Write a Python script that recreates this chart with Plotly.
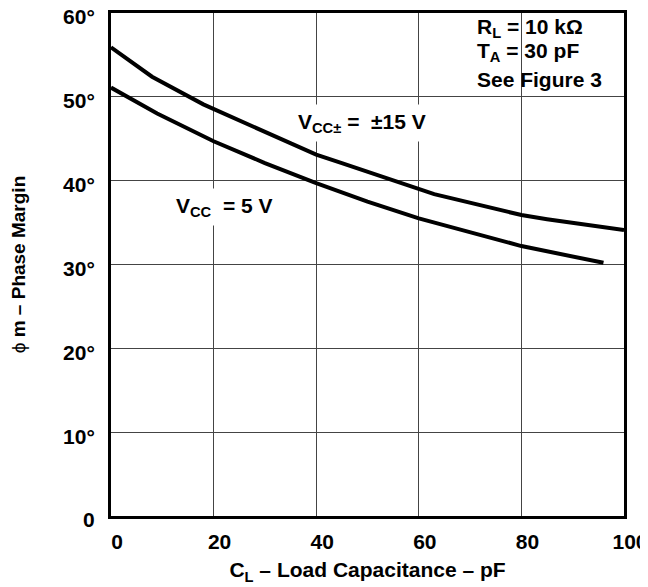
import plotly.graph_objects as go

# load capacitance (pF) and phase margin (degrees)
cl_15 = [0, 8, 18, 27, 40, 45, 55, 63, 80, 85, 100]
pm_15 = [55.9, 52.4, 49.1, 46.6, 43.1, 42.1, 40.1, 38.4, 35.9, 35.4, 34.1]

cl_5 = [0, 9, 20, 30, 40, 50, 60, 70, 80, 96]
pm_5 = [51.1, 48.0, 44.7, 42.1, 39.7, 37.5, 35.5, 33.8, 32.2, 30.2]

x_ticks = [0, 20, 40, 60, 80, 100]
y_ticks = [0, 10, 20, 30, 40, 50, 60]
y_labels = ["0", "10°", "20°", "30°", "40°", "50°", "60°"]

conditions = ["R<sub>L</sub> = 10 kΩ", "T<sub>A</sub> = 30 pF", "See Figure 3"]
cond_y = [58.2, 55.3, 52.1]

FONT = "Liberation Sans, Arial, Helvetica, sans-serif"
bold = dict(size=21, color="black", family=FONT, weight="bold")

fig = go.Figure()
fig.add_trace(go.Scatter(x=cl_15, y=pm_15, mode="lines",
                         line=dict(color="black", width=4)))
fig.add_trace(go.Scatter(x=cl_5, y=pm_5, mode="lines",
                         line=dict(color="black", width=4)))

# white patch behind the conditions box (hides the 80 pF gridline there)
fig.add_shape(type="rect", x0=80.4, x1=99.6, y0=50.3, y1=59.7,
              fillcolor="white", line_width=0, layer="above")

for txt, yy in zip(conditions, cond_y):
    fig.add_annotation(x=71, y=yy, xref="x", yref="y", xanchor="left", yanchor="middle",
                       align="left", showarrow=False, text=txt, font=bold)

fig.add_annotation(x=49, y=46.9, xref="x", yref="y", showarrow=False,
                   text="V<sub>CC±</sub> =  ±15 V", bgcolor="white", borderpad=5,
                   font=bold)
fig.add_annotation(x=22.2, y=36.8, xref="x", yref="y", showarrow=False,
                   text="V<sub>CC</sub>  = 5 V", bgcolor="white", borderpad=5,
                   font=bold)

# the page body adds an 8 px margin, so the figure is 8 px smaller each way
fig.update_layout(
    width=640, height=579,
    margin=dict(l=103, r=24, t=5, b=71),
    paper_bgcolor="white", plot_bgcolor="white",
    showlegend=False,
    font=dict(family=FONT, size=21, color="black", weight="bold"),
    xaxis=dict(range=[0, 100], tickvals=x_ticks, ticktext=[str(v) for v in x_ticks],
               showgrid=True, gridcolor="#444", gridwidth=1.4,
               showline=True, linecolor="black", linewidth=3, mirror=True,
               ticks="outside", ticklen=5, tickcolor="rgba(0,0,0,0)",
               ticklabelshift=6, ticklabeloverflow="allow", zeroline=False,
               automargin=False,
               title=dict(text="C<sub>L</sub> – Load Capacitance – pF", standoff=11,
                          font=dict(size=21))),
    yaxis=dict(range=[0, 60], tickvals=y_ticks, ticktext=y_labels,
               showgrid=True, gridcolor="#444", gridwidth=1.4,
               showline=True, linecolor="black", linewidth=3, mirror=True,
               ticks="outside", ticklen=9, tickcolor="rgba(0,0,0,0)",
               ticklabelshift=4, ticklabeloverflow="allow", zeroline=False,
               automargin=False,
               title=dict(text="<span style='font-weight:normal'>ϕ</span> m – Phase Margin",
                          standoff=38, font=dict(size=19))),
)

fig.write_html("out.html")
